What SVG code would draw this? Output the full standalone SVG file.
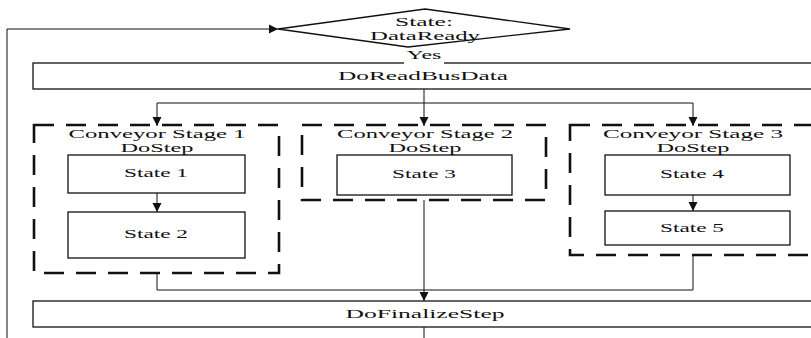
<svg xmlns="http://www.w3.org/2000/svg" width="811" height="338" viewBox="0 0 811 338">
<style>
text{font-family:"Liberation Serif","DejaVu Serif",serif;font-size:12.5px;fill:#111;text-anchor:middle}
.box{fill:#fff;stroke:#111;stroke-width:1.3}
.stage{fill:none;stroke:#111;stroke-width:2.6;stroke-dasharray:20 12}
.conn{fill:none;stroke:#111;stroke-width:1}
</style>
<defs>
<marker id="arr" markerUnits="userSpaceOnUse" markerWidth="10" markerHeight="10" refX="9" refY="5" orient="auto">
<path d="M0,0.5 L9,5 L0,9.5 z" fill="#111"/>
</marker>
</defs>
<g id="connectors">
<path class="conn" d="M7,338 V29 H278" marker-end="url(#arr)"/>
<path class="conn" d="M424,89 V126" marker-end="url(#arr)"/>
<path class="conn" d="M424,103 H157 V126" marker-end="url(#arr)"/>
<path class="conn" d="M424,103 H693 V126" marker-end="url(#arr)"/>
<path class="conn" d="M157,193 V212" marker-end="url(#arr)"/>
<path class="conn" d="M693,195 V211" marker-end="url(#arr)"/>
<path class="conn" d="M157,273 V290 H424"/>
<path class="conn" d="M693,255 V290 H424"/>
<path class="conn" d="M424,200 V301" marker-end="url(#arr)"/>
<path class="conn" d="M424,327 V338"/>
</g>
<g id="decision">
<polygon class="box" points="425,9 570,29 408,47 278,29"/>
<text x="424" y="26" textLength="58" lengthAdjust="spacingAndGlyphs">State:</text>
<text x="425" y="39.5" textLength="110" lengthAdjust="spacingAndGlyphs">DataReady</text>
</g>
<g id="readbus">
<rect class="box" x="33" y="63" width="782" height="26"/>
<rect x="404" y="50" width="40" height="15" fill="#fff"/>
<text x="424" y="59" textLength="35" lengthAdjust="spacingAndGlyphs">Yes</text>
<text x="423" y="80" textLength="170" lengthAdjust="spacingAndGlyphs">DoReadBusData</text>
</g>
<g id="stage1">
<rect class="stage" x="34" y="125" width="245" height="148"/>
<text x="157" y="137.5" textLength="177" lengthAdjust="spacingAndGlyphs">Conveyor Stage 1</text>
<text x="157" y="151.5" textLength="73" lengthAdjust="spacingAndGlyphs">DoStep</text>
</g>
<g id="state1">
<rect class="box" x="68" y="155" width="177" height="38"/>
<text x="156" y="177" textLength="64" lengthAdjust="spacingAndGlyphs">State 1</text>
</g>
<g id="state2">
<rect class="box" x="68" y="212" width="177" height="46"/>
<text x="156" y="238" textLength="64" lengthAdjust="spacingAndGlyphs">State 2</text>
</g>
<g id="stage2">
<rect class="stage" x="302" y="125" width="244" height="75"/>
<text x="425" y="137.5" textLength="176" lengthAdjust="spacingAndGlyphs">Conveyor Stage 2</text>
<text x="425" y="151.5" textLength="73" lengthAdjust="spacingAndGlyphs">DoStep</text>
</g>
<g id="state3">
<rect class="box" x="337" y="155" width="175" height="40"/>
<text x="424" y="178" textLength="64" lengthAdjust="spacingAndGlyphs">State 3</text>
</g>
<g id="stage3">
<rect class="stage" x="570" y="125" width="246" height="130"/>
<text x="693" y="137.5" textLength="180" lengthAdjust="spacingAndGlyphs">Conveyor Stage 3</text>
<text x="693" y="151.5" textLength="73" lengthAdjust="spacingAndGlyphs">DoStep</text>
</g>
<g id="state4">
<rect class="box" x="605" y="155" width="185" height="40"/>
<text x="692" y="178" textLength="64" lengthAdjust="spacingAndGlyphs">State 4</text>
</g>
<g id="state5">
<rect class="box" x="605" y="211" width="185" height="34"/>
<text x="692" y="232" textLength="64" lengthAdjust="spacingAndGlyphs">State 5</text>
</g>
<g id="finalize">
<rect class="box" x="33" y="301" width="782" height="26"/>
<text x="425" y="318" textLength="159" lengthAdjust="spacingAndGlyphs">DoFinalizeStep</text>
</g>
</svg>
